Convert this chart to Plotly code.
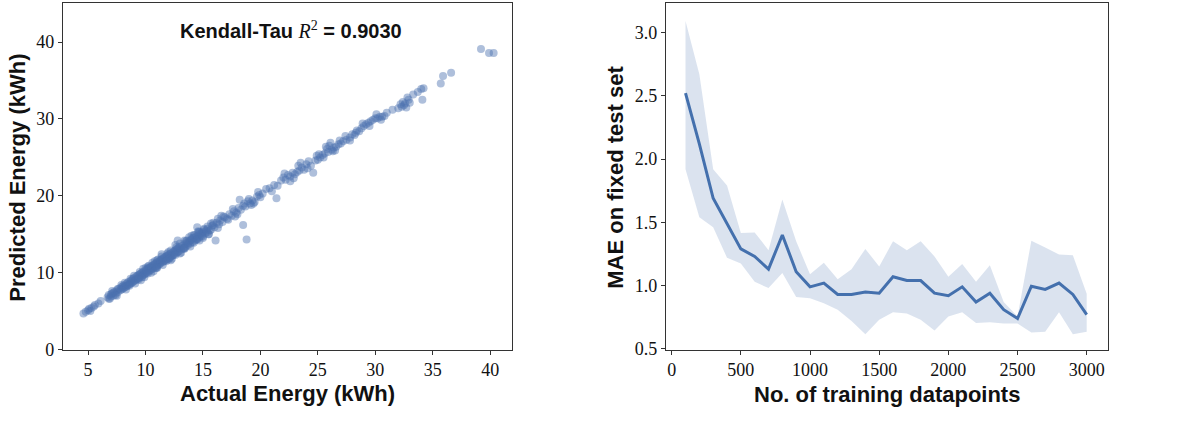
import plotly.graph_objects as go

# ---------------- Left panel data: actual vs predicted energy (kWh) ----------------
actual = [
    4.6, 4.8, 5.0, 5.1, 5.3, 5.5, 5.6, 5.9, 6.1, 5.2,
    6.7, 6.8, 6.9, 7.0, 7.0, 7.1, 7.2, 7.3, 7.4, 7.5, 7.6, 7.7, 7.8, 7.9, 8.0, 8.1, 8.2, 8.3, 8.4, 8.5,
    8.6, 8.7, 8.8, 8.9, 9.0, 6.8, 7.2, 7.6, 8.0, 8.4, 8.8, 7.4, 7.9, 8.3, 8.7,
    9.0, 9.1, 9.2, 9.3, 9.4, 9.5, 9.6, 9.7, 9.8, 9.9, 10.0, 10.1, 10.2, 10.3, 10.4, 10.5, 10.6, 10.7,
    10.8, 10.9, 11.0, 11.1, 11.2, 11.3, 11.4, 11.5, 11.6, 11.7, 11.8, 11.9, 12.0, 12.1, 12.2, 12.3,
    12.4, 12.5, 12.6, 12.7, 12.8, 12.9, 9.2, 9.5, 9.8, 10.1, 10.4, 10.7, 11.0, 11.3, 11.6, 11.9, 12.2,
    12.5, 12.8, 9.4, 10.0, 10.6, 11.2, 11.8, 12.4, 9.7, 10.3, 10.9, 11.5, 12.1, 12.7, 10.2, 11.0, 12.6,
    12.8, 11.4, 10.5, 12.0,
    13.0, 13.1, 13.2, 13.3, 13.4, 13.5, 13.6, 13.7, 13.8, 13.9, 14.0, 14.1, 14.2, 14.3, 14.4, 14.5,
    14.6, 14.7, 14.8, 14.9, 15.0, 15.2, 15.4, 15.6, 15.8, 16.0, 16.2, 16.4, 13.4, 13.9, 14.4, 14.9,
    15.4, 15.9, 14.5, 14.7, 15.1, 15.5, 16.1, 13.6, 14.2, 15.7, 16.3,
    16.5, 16.7, 16.9, 17.1, 17.3, 17.5, 17.7, 17.9, 18.1, 18.3, 18.5, 18.7, 18.9, 19.1, 19.3, 19.5,
    19.7, 19.9, 18.2, 18.5, 18.8, 17.8, 16.8, 19.2,
    20.2, 20.5, 20.8, 21.0, 21.4, 21.2, 21.5, 21.8, 22.0, 22.2, 22.4, 22.6, 22.8, 23.0, 23.2, 23.4,
    23.6, 23.8, 24.0, 24.2, 24.4, 24.6, 24.8, 25.0, 25.2, 25.4, 25.6, 25.8, 25.9, 26.0, 26.2, 26.4,
    26.6, 26.8, 27.0, 27.2, 27.5, 27.8, 28.0, 28.2, 28.4, 28.6, 28.8, 29.0, 29.2, 29.4, 29.6, 29.8,
    30.0, 30.2, 30.4, 30.6, 30.8, 27.8, 26.5, 22.6, 23.5, 20.0, 25.1,
    32.0, 32.2, 32.3, 32.4, 32.5, 32.6, 32.7, 32.9, 31.5, 33.3, 33.7, 34.0, 34.2, 34.1, 35.7, 35.9,
    36.6, 39.2, 39.9, 40.3,
    7.1, 7.5, 7.9, 8.3, 8.7, 9.1, 9.5, 9.9, 10.3, 10.7, 11.1, 11.5, 11.9, 12.3, 12.7, 13.1,
    13.5, 13.9, 14.3, 14.7, 15.1, 15.5, 15.9, 16.3, 8.1, 8.5, 8.9, 9.3, 9.7, 10.1, 10.5, 10.9,
    11.3, 11.7, 12.1, 12.5, 12.9, 13.3, 13.7, 14.1, 14.5, 14.9, 15.3, 15.7, 10.0, 11.0, 12.0, 13.0,
    14.0, 15.0, 9.6, 10.8, 12.2, 13.4, 14.6, 16.6, 17.2, 17.6, 18.0, 18.6, 19.0, 19.4, 19.8,
    22.1, 22.9, 23.3, 24.1, 24.9, 25.5, 25.7, 26.1, 26.3, 26.9, 27.4, 28.3, 28.9, 29.5, 30.1, 30.5,
    31.0, 32.8, 33.0,
    8.2, 9.0, 9.8, 10.6, 11.4, 12.2, 13.0, 13.8, 14.6, 15.4, 8.6, 9.4, 10.2, 11.0, 11.8, 12.6,
    13.4, 14.2, 15.0,
]
predicted = [
    4.7, 4.9, 5.1, 5.3, 5.4, 5.6, 5.8, 6.0, 6.3, 5.0,
    6.8, 7.1, 6.6, 7.2, 6.9, 7.3, 7.0, 7.5, 7.3, 7.7, 7.5, 7.9, 7.7, 8.1, 7.9, 8.3, 8.1, 8.5, 8.3, 8.8,
    8.5, 8.9, 8.7, 9.2, 8.9, 6.6, 7.4, 7.9, 8.2, 8.6, 9.0, 7.1, 7.8, 8.2, 8.6,
    9.3, 9.0, 9.5, 9.2, 9.7, 9.4, 9.9, 9.6, 10.1, 9.8, 10.3, 10.0, 10.5, 10.2, 10.7, 10.4, 10.9, 10.6,
    11.1, 10.8, 11.3, 11.0, 11.5, 11.2, 11.7, 11.4, 11.9, 11.6, 12.1, 11.8, 12.3, 12.0, 12.5, 12.2,
    12.7, 12.4, 12.9, 12.6, 13.1, 12.8, 9.1, 9.8, 9.7, 10.4, 10.3, 11.0, 10.9, 11.6, 11.5, 12.2, 12.1,
    12.8, 12.7, 9.3, 9.9, 10.5, 11.1, 11.7, 12.3, 10.0, 10.6, 11.2, 11.8, 12.4, 13.0, 10.8, 11.6, 13.6,
    14.2, 12.4, 10.0, 11.7,
    13.3, 13.0, 13.5, 13.2, 13.7, 13.4, 13.9, 13.6, 14.1, 13.8, 14.3, 14.0, 14.5, 14.2, 14.7, 14.4,
    14.9, 14.6, 15.1, 14.8, 15.3, 15.1, 15.7, 15.5, 16.1, 15.9, 16.5, 16.3, 13.2, 14.2, 14.3, 15.2,
    15.3, 16.2, 15.9, 15.3, 15.6, 15.0, 14.2, 14.2, 14.9, 16.4, 17.0,
    16.8, 16.6, 17.2, 17.0, 17.6, 17.4, 18.0, 17.8, 18.4, 18.2, 18.7, 18.6, 19.3, 19.0, 19.4, 19.2,
    19.9, 20.1, 19.5, 16.2, 14.3, 17.3, 17.3, 18.8,
    20.3, 20.9, 21.0, 20.6, 19.7, 21.4, 21.3, 22.0, 22.4, 22.1, 22.7, 22.5, 23.0, 22.8, 23.1, 23.3,
    23.7, 23.4, 24.1, 24.5, 23.9, 23.0, 24.6, 24.7, 25.0, 25.3, 25.5, 26.1, 25.7, 26.5, 26.0, 26.3,
    26.4, 26.7, 26.8, 27.1, 27.3, 27.6, 28.0, 27.9, 28.5, 28.4, 28.8, 29.1, 29.3, 29.5, 29.7, 29.9,
    30.1, 30.1, 30.3, 30.3, 30.4, 27.2, 25.9, 21.9, 24.3, 19.8, 25.4,
    31.4, 31.9, 31.6, 32.2, 31.8, 32.0, 31.5, 32.5, 31.2, 33.2, 33.5, 33.9, 34.0, 32.5, 34.6, 35.6,
    36.0, 39.1, 38.6, 38.6,
    7.6, 7.0, 8.4, 7.8, 9.2, 8.6, 10.1, 9.4, 10.9, 10.2, 11.7, 11.0, 12.5, 11.8, 13.3, 12.6,
    14.1, 13.4, 14.9, 14.2, 15.7, 15.0, 16.5, 15.8, 8.0, 8.4, 8.8, 9.6, 9.4, 10.2, 10.7, 10.6,
    11.4, 12.0, 11.9, 12.6, 13.3, 13.1, 13.8, 14.5, 14.3, 15.0, 15.5, 15.6, 10.6, 10.6, 12.7, 12.5,
    14.8, 14.5, 9.0, 11.5, 11.6, 14.2, 15.4, 17.4, 16.9, 18.3, 17.6, 19.0, 19.6, 19.0, 20.5,
    22.9, 22.3, 23.9, 23.6, 25.2, 25.0, 26.4, 26.9, 25.8, 27.2, 27.8, 28.2, 29.4, 29.1, 30.6, 29.9,
    30.8, 32.8, 32.1,
    8.7, 9.6, 10.5, 11.3, 12.1, 12.9, 13.8, 14.6, 15.3, 16.0, 8.3, 9.1, 9.9, 10.7, 11.5, 12.3,
    13.1, 13.9, 14.7,
]
left_xticks = [5, 10, 15, 20, 25, 30, 35, 40]
left_yticks = [0, 10, 20, 30, 40]

# ---------------- Right panel data: learning curve ----------------
n_train = [100, 200, 300, 400, 500, 600, 700, 800, 900, 1000,
           1100, 1200, 1300, 1400, 1500, 1600, 1700, 1800, 1900, 2000,
           2100, 2200, 2300, 2400, 2500, 2600, 2700, 2800, 2900, 3000]
mae_mean = [2.52, 2.12, 1.69, 1.49, 1.29, 1.23, 1.13, 1.40, 1.11, 0.99,
            1.02, 0.93, 0.93, 0.95, 0.94, 1.07, 1.04, 1.04, 0.94, 0.92,
            0.99, 0.87, 0.94, 0.81, 0.74, 0.995, 0.97, 1.02, 0.93, 0.77]
mae_upper = [3.09, 2.67, 1.92, 1.79, 1.415, 1.42, 1.28, 1.68, 1.35, 1.09,
             1.18, 1.05, 1.13, 1.29, 1.15, 1.35, 1.28, 1.35, 1.23, 1.07,
             1.17, 1.03, 1.16, 0.87, 0.755, 1.355, 1.30, 1.245, 1.24, 0.935]
mae_lower = [1.92, 1.54, 1.46, 1.22, 1.175, 1.03, 0.98, 1.10, 0.91, 0.90,
             0.86, 0.81, 0.72, 0.615, 0.73, 0.79, 0.78, 0.73, 0.645, 0.755,
             0.79, 0.705, 0.71, 0.70, 0.70, 0.63, 0.635, 0.79, 0.615, 0.635]
right_xticks = [0, 500, 1000, 1500, 2000, 2500, 3000]
right_yticks = [0.5, 1.0, 1.5, 2.0, 2.5, 3.0]

BLUE = "#4c72b0"
W, H = 1177, 422

fig = go.Figure()

fig.add_trace(go.Scatter(
    x=actual, y=predicted, mode="markers", xaxis="x", yaxis="y",
    marker=dict(color=BLUE, size=8, opacity=0.45, line=dict(width=0)),
    showlegend=False,
))

# band
fig.add_trace(go.Scatter(
    x=n_train, y=mae_upper, mode="lines", line=dict(width=0, color=BLUE),
    xaxis="x2", yaxis="y2", showlegend=False, hoverinfo="skip",
))
fig.add_trace(go.Scatter(
    x=n_train, y=mae_lower, mode="lines", line=dict(width=0, color=BLUE),
    fill="tonexty", fillcolor="rgba(76,114,176,0.2)",
    xaxis="x2", yaxis="y2", showlegend=False, hoverinfo="skip",
))
fig.add_trace(go.Scatter(
    x=n_train, y=mae_mean, mode="lines", line=dict(width=3, color="#4470ad"),
    xaxis="x2", yaxis="y2", showlegend=False,
))

tickfont = dict(family="Liberation Serif", size=18, color="#111")
axis_common = dict(
    showline=True, mirror=True, linecolor="#333", linewidth=1.2,
    ticks="outside", ticklen=4, tickwidth=1, tickcolor="#333",
    showgrid=False, zeroline=False, tickfont=tickfont,
)

def px_x(p):
    return p / W

def px_y(p):
    return 1 - p / H

fig.update_layout(
    width=W, height=H,
    margin=dict(l=0, r=0, t=0, b=0),
    paper_bgcolor="white", plot_bgcolor="white",
    xaxis=dict(domain=[px_x(63), px_x(512)], range=[2.82, 41.9],
               tickvals=left_xticks, anchor="y", **axis_common),
    yaxis=dict(domain=[px_y(358), px_y(3)], range=[0, 45.1],
               tickvals=left_yticks, anchor="x", **axis_common),
    xaxis2=dict(domain=[px_x(666), px_x(1108)], range=[-41, 3154],
                tickvals=right_xticks, anchor="y2", **axis_common),
    yaxis2=dict(domain=[px_y(358), px_y(3)], range=[0.495, 3.233],
                tickvals=right_yticks, tickformat=".1f", anchor="x2", **axis_common),
)

label_font = dict(family="Liberation Sans", size=22, color="#111")
annotations = [
    dict(text="<b>Actual Energy (kWh)</b>", x=px_x(287), y=px_y(403),
         xref="paper", yref="paper", showarrow=False, font=label_font,
         xanchor="center", yanchor="middle"),
    dict(text="<b>Predicted Energy (kWh)</b>", x=px_x(18), y=px_y(182),
         xref="paper", yref="paper", showarrow=False, font=label_font,
         textangle=-90, xanchor="center", yanchor="middle"),
    dict(text="<b>No. of training datapoints</b>", x=px_x(887), y=px_y(404),
         xref="paper", yref="paper", showarrow=False, font=label_font,
         xanchor="center", yanchor="middle"),
    dict(text="<b>MAE on fixed test set</b>", x=px_x(616), y=px_y(181),
         xref="paper", yref="paper", showarrow=False, font=label_font,
         textangle=-90, xanchor="center", yanchor="middle"),
    dict(text="<b>Kendall-Tau</b> <span style='font-family:Liberation Serif'><i>R</i><sup>2</sup></span> <b>= 0.9030</b>",
         x=px_x(291), y=px_y(31), xref="paper", yref="paper", showarrow=False,
         font=dict(family="Liberation Sans", size=20, color="#111"),
         xanchor="center", yanchor="middle"),
]
fig.update_layout(annotations=annotations)

fig.write_html("out.html",
               config={"displayModeBar": False},
               post_script="document.body.style.margin='0';document.body.style.overflow='hidden';")
